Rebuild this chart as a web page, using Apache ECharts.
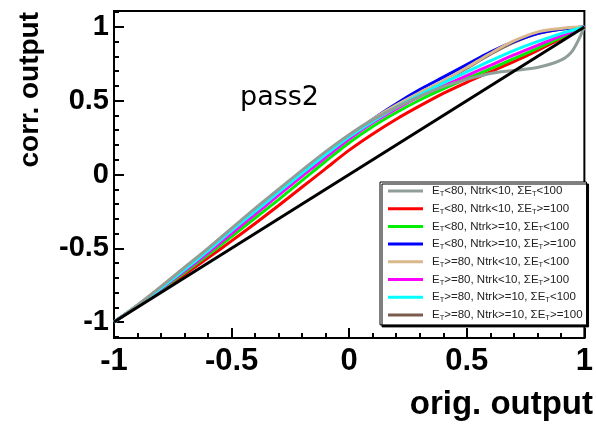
<!DOCTYPE html>
<html>
<head>
<meta charset="utf-8">
<script src="https://cdn.jsdelivr.net/npm/echarts@6/dist/echarts.min.js"></script>
<style>
html, body { margin: 0; padding: 0; background: #fff; }
#chart { width: 596px; height: 426px; }
</style>
</head>
<body>
<div id="chart"></div>
<script>
// Original network output (x) sampled along the axis
const origOutput = [-1, -0.9, -0.8, -0.7, -0.6, -0.5, -0.4, -0.3, -0.2, -0.1, 0,
                    0.1, 0.2, 0.3, 0.4, 0.5, 0.6, 0.7, 0.8, 0.9, 0.95, 1];

// Corrected output for each event category
const corrGrey    = [-1, -0.885, -0.76, -0.63, -0.5, -0.365, -0.23, -0.1, 0.03, 0.155, 0.27,
                     0.37, 0.455, 0.53, 0.595, 0.645, 0.685, 0.705, 0.725, 0.775, 0.84, 1];
const corrRed     = [-1, -0.895, -0.788, -0.678, -0.565, -0.45, -0.332, -0.21, -0.085, 0.04, 0.165,
                     0.275, 0.375, 0.465, 0.55, 0.625, 0.695, 0.765, 0.84, 0.92, 0.96, 1];
const corrGreen   = [-1, -0.892, -0.78, -0.665, -0.545, -0.42, -0.295, -0.17, -0.04, 0.09, 0.215,
                     0.325, 0.42, 0.505, 0.58, 0.65, 0.715, 0.785, 0.855, 0.928, 0.964, 1];
const corrBlue    = [-1, -0.89, -0.772, -0.65, -0.52, -0.385, -0.25, -0.12, 0.01, 0.14, 0.262,
                     0.375, 0.48, 0.575, 0.66, 0.745, 0.83, 0.9, 0.955, 0.985, 0.995, 1];
const corrTan     = [-1, -0.885, -0.76, -0.63, -0.5, -0.365, -0.235, -0.105, 0.025, 0.15, 0.27,
                     0.375, 0.47, 0.555, 0.635, 0.725, 0.82, 0.905, 0.965, 0.99, 0.998, 1];
const corrMagenta = [-1, -0.89, -0.775, -0.655, -0.53, -0.4, -0.27, -0.14, -0.01, 0.115, 0.24,
                     0.35, 0.445, 0.53, 0.6, 0.67, 0.74, 0.81, 0.875, 0.94, 0.97, 1];
const corrCyan    = [-1, -0.888, -0.77, -0.645, -0.515, -0.38, -0.25, -0.12, 0.01, 0.135, 0.255,
                     0.36, 0.455, 0.54, 0.62, 0.695, 0.77, 0.84, 0.9, 0.955, 0.978, 1];
const corrBrown   = [-1, -0.886, -0.762, -0.633, -0.503, -0.37, -0.24, -0.11, 0.02, 0.145, 0.265,
                     0.37, 0.465, 0.55, 0.63, 0.72, 0.815, 0.895, 0.955, 0.985, 0.995, 1];

// Identity reference line
const identityX = [-1, 1];
const identityY = [-1, 1];

const categoryNames = [
  'E_T<80, Ntrk<10, ΣE_T<100',
  'E_T<80, Ntrk<10, ΣE_T>=100',
  'E_T<80, Ntrk>=10, ΣE_T<100',
  'E_T<80, Ntrk>=10, ΣE_T>=100',
  'E_T>=80, Ntrk<10, ΣE_T<100',
  'E_T>=80, Ntrk<10, ΣE_T>100',
  'E_T>=80, Ntrk>=10, ΣE_T<100',
  'E_T>=80, Ntrk>=10, ΣE_T>=100'
];
const categoryValues = [corrGrey, corrRed, corrGreen, corrBlue, corrTan, corrMagenta, corrCyan, corrBrown];
const categoryColors = ['#8f9e98', '#ff0000', '#00ee00', '#0000ff', '#d9b98c', '#ff00ff', '#00ffff', '#7a5c4c'];
const categoryZ = [9, 3, 4, 5, 7, 6, 8, 2];

const yMajorTicks = [-1, -0.5, 0, 0.5, 1];
const yMinorTicks = [-1.1, -0.9, -0.8, -0.7, -0.6, -0.4, -0.3, -0.2, -0.1,
                     0.1, 0.2, 0.3, 0.4, 0.6, 0.7, 0.8, 0.9, 1.1];

const boldFont = 'Liberation Sans';

const series = categoryNames.map((name, i) => ({
  name: name,
  type: 'line',
  data: origOutput.map((x, k) => [x, categoryValues[i][k]]),
  showSymbol: false,
  symbol: 'none',
  smooth: 0.3,
  z: categoryZ[i],
  lineStyle: { width: 3, color: categoryColors[i] },
  itemStyle: { color: categoryColors[i] }
}));

series.push({
  name: 'identity',
  type: 'line',
  data: identityX.map((x, k) => [x, identityY[k]]),
  showSymbol: false,
  symbol: 'none',
  z: 10,
  lineStyle: { width: 3, color: '#000' }
});

// Legend labels: E_T rendered with a subscript T
function legendLabel(name) {
  const parts = name.split('E_T');
  let out = '{g|}';
  parts.forEach((p, i) => {
    if (p.length) out += '{n|' + p + '}';
    if (i < parts.length - 1) out += '{n|E}{s|T}';
  });
  return out;
}

const chart = echarts.init(document.getElementById('chart'), null, { renderer: 'canvas' });
chart.setOption({
  backgroundColor: '#fff',
  animation: false,
  grid: {
    left: 114, right: 10, top: 11, bottom: 88,
    show: true, borderColor: '#000', borderWidth: 2, backgroundColor: 'transparent'
  },
  xAxis: {
    type: 'value', min: -1, max: 1, interval: 0.5,
    axisLine: { show: true, onZero: false, lineStyle: { color: '#000', width: 2 } },
    axisTick: { show: true, inside: true, length: 10, lineStyle: { color: '#000', width: 2 } },
    minorTick: { show: true, splitNumber: 5, length: 5, lineStyle: { color: '#000', width: 2 } },
    splitLine: { show: false },
    axisLabel: {
      margin: 8, color: '#000', fontFamily: boldFont, fontWeight: 'bold', fontSize: 31,
      formatter: v => String(v)
    }
  },
  yAxis: [{
    type: 'value', min: -1.108, max: 1.108,
    axisLine: { show: true, onZero: false, lineStyle: { color: '#000', width: 2 } },
    axisTick: { show: true, inside: true, length: 10, customValues: yMajorTicks,
                lineStyle: { color: '#000', width: 2 } },
    splitLine: { show: false },
    axisLabel: {
      margin: 5, color: '#000', fontFamily: boldFont, fontWeight: 'bold', fontSize: 29,
      customValues: yMajorTicks, formatter: v => String(v)
    }
  }, {
    type: 'value', min: -1.108, max: 1.108, position: 'left',
    axisLine: { show: false, onZero: false },
    axisTick: { show: true, inside: true, length: 5, customValues: yMinorTicks,
                lineStyle: { color: '#000', width: 2 } },
    splitLine: { show: false },
    axisLabel: { show: false }
  }],
  legend: {
    data: categoryNames,
    orient: 'vertical',
    left: 380, top: 182,
    icon: 'rect',
    itemWidth: 35, itemHeight: 3, itemGap: 4.7,
    padding: [3, 4, 3, 8],
    backgroundColor: '#fff',
    borderColor: '#000', borderWidth: 1,
    shadowColor: '#000', shadowBlur: 0, shadowOffsetX: 2, shadowOffsetY: 2,
    selectedMode: false,
    formatter: legendLabel,
    textStyle: {
      color: '#222', fontFamily: 'Liberation Sans', fontSize: 11.5,
      rich: {
        g: { width: 4 },
        n: { fontFamily: 'Liberation Sans', fontSize: 11.5, lineHeight: 14, color: '#222' },
        s: { fontFamily: 'Liberation Sans', fontSize: 7.5, lineHeight: 14, color: '#222', verticalAlign: 'bottom' }
      }
    }
  },
  graphic: [
    { type: 'text', left: 240, top: 84, z: 20,
      style: { text: 'pass2', fill: '#000', font: '27px "DejaVu Sans"' } },
    { type: 'text', right: 3, top: 388, z: 20,
      style: { text: 'orig. output', fill: '#000', font: 'bold 33px "Liberation Sans"' } },
    { type: 'text', x: 30, y: 12, rotation: Math.PI / 2, z: 20,
      style: { text: 'corr. output', fill: '#000', font: 'bold 28px "Liberation Sans"',
               align: 'right', verticalAlign: 'middle' } }
  ],
  series: series
});
</script>
</body>
</html>
